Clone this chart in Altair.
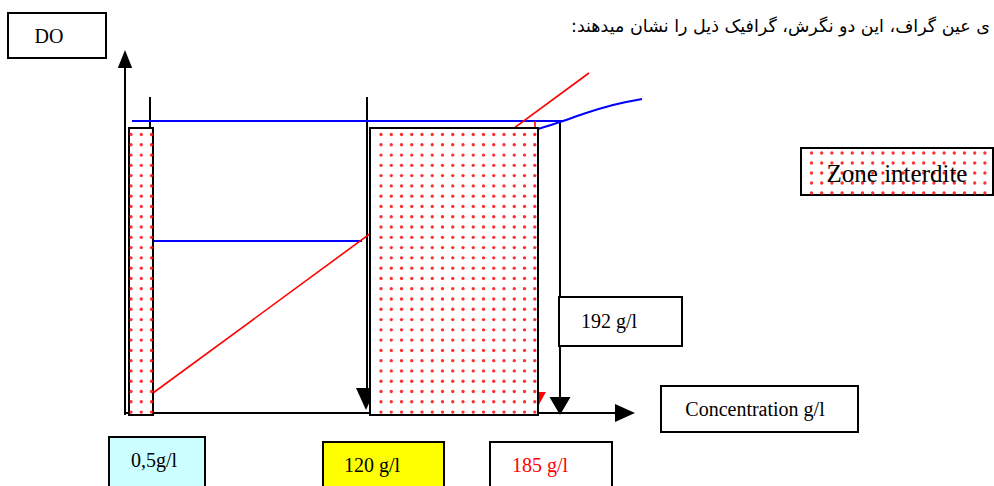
import altair as alt
import numpy as np
import pandas as pd

W, H = 994, 486

# ---- diagram geometry (canvas units, y grows downward) ----
# straight line segments: x, y, x2, y2, colour, width
seg_x  = [125, 125, 150, 367, 560, 132, 153, 153, 535]
seg_y  = [66, 413, 97, 97, 121, 121, 241, 393, 121]
seg_x2 = [125, 617, 150, 367, 560, 563, 362, 589, 535]
seg_y2 = [415, 413, 128, 392, 399, 121, 241, 73, 129]
seg_col = ["black", "black", "black", "black", "black", "blue", "blue", "red", "red"]
seg_w   = [2, 2, 2, 2, 2, 2, 2, 1.6, 1.6]

# curved blue characteristic beyond the forbidden zone
curve_x = [538, 563, 583, 613, 642]
curve_y = [129, 121, 114, 105, 99]

# arrow heads: centre x, centre y, path, symbol size, colour
head_x = [125, 625, 366, 560, 536]
head_y = [59, 413, 399, 406, 401]
head_path = [
    "M-0.8,1L0,-1L0.8,1Z",
    "M-1,-0.9L1,0L-1,0.9Z",
    "M-0.91,-1L0.91,-1L0,1Z",
    "M-1.17,-1L1.17,-1L0,1Z",
    "M-1.1,-1L1.1,-1L0,1Z",
]
head_size = [324, 400, 484, 324, 324]
head_col = ["black", "black", "black", "black", "red"]

# forbidden zones (dotted rectangles)
zone_x  = [129, 370]
zone_y  = [128, 128]
zone_x2 = [153, 538]
zone_y2 = [415, 415]

# label boxes
box_x  = [8, 661, 559, 801, 109, 323, 490]
box_y  = [13, 386, 297, 148, 437, 442, 442]
box_x2 = [106, 858, 682, 993, 205, 444, 612]
box_y2 = [58, 432, 346, 195, 492, 492, 492]
box_fill = ["white", "white", "white", "white", "#ccffff", "#ffff00", "white"]

# label texts
label_text = ["DO", "Concentration g/l", "192 g/l", "Zone interdite",
              "0,5g/l", "120 g/l", "185 g/l"]
label_x = [49, 755, 609, 897, 154, 372, 540]
label_y = [37, 410, 322, 174, 461, 466, 466]
label_size = [20, 20, 20, 25, 20, 20, 20]
label_col = ["black", "black", "black", "black", "black", "black", "red"]

persian_line = "ی عین گراف، این دو نگرش، گرافیک ذیل را نشان میدهند:\u200f"


def dot_grid(x0, x1, y0, y1, cx0, cy0, step_x, step_y):
    xs = np.arange(cx0, x1, step_x)
    ys = np.arange(cy0, y1, step_y)
    gx, gy = np.meshgrid(xs, ys)
    gx, gy = gx.ravel(), gy.ravel()
    keep = (gx > x0) & (gx < x1) & (gy > y0) & (gy < y1)
    return gx[keep], gy[keep]


dots = []
for a, b, c, d, cx0 in zip(zone_x, zone_x2, zone_y, zone_y2, [131, 381]):
    dots.append(dot_grid(a, b, c, d, cx0, 134.5, 10.25, 10.28))
dots.append(dot_grid(801, 993, 148, 195, 811.5, 153, 10.2, 10.0))
dot_df = pd.DataFrame({
    "x": np.concatenate([g[0] for g in dots]),
    "y": np.concatenate([g[1] for g in dots]),
})

xs = alt.Scale(domain=[0, W], nice=False, zero=False)
ys = alt.Scale(domain=[0, H], nice=False, zero=False, reverse=True)

seg_df = pd.DataFrame({"x": seg_x, "y": seg_y, "x2": seg_x2, "y2": seg_y2,
                       "c": seg_col, "w": seg_w})
curve_df = pd.DataFrame({"x": curve_x, "y": curve_y})
head_df = pd.DataFrame({"x": head_x, "y": head_y, "p": head_path,
                        "s": head_size, "c": head_col})
zone_df = pd.DataFrame({"x": zone_x, "y": zone_y, "x2": zone_x2, "y2": zone_y2})
box_df = pd.DataFrame({"x": box_x, "y": box_y, "x2": box_x2, "y2": box_y2,
                       "f": box_fill})
label_df = pd.DataFrame({"t": label_text, "x": label_x, "y": label_y,
                         "s": label_size, "c": label_col})
title_df = pd.DataFrame({"t": [persian_line], "x": [990], "y": [27]})

segments = alt.Chart(seg_df).mark_rule().encode(
    x=alt.X("x:Q", scale=xs, axis=None),
    y=alt.Y("y:Q", scale=ys, axis=None),
    x2="x2:Q", y2="y2:Q",
    color=alt.Color("c:N", scale=None),
    strokeWidth=alt.StrokeWidth("w:Q", scale=None),
)

curve = alt.Chart(curve_df).mark_line(
    color="blue", strokeWidth=2, interpolate="monotone"
).encode(
    x=alt.X("x:Q", scale=xs, axis=None),
    y=alt.Y("y:Q", scale=ys, axis=None),
)

heads = alt.Chart(head_df).mark_point(filled=True, opacity=1).encode(
    x=alt.X("x:Q", scale=xs, axis=None),
    y=alt.Y("y:Q", scale=ys, axis=None),
    shape=alt.Shape("p:N", scale=None),
    size=alt.Size("s:Q", scale=None),
    color=alt.Color("c:N", scale=None),
)

zones = alt.Chart(zone_df).mark_rect(
    fill="white", stroke="black", strokeWidth=2
).encode(
    x=alt.X("x:Q", scale=xs, axis=None),
    y=alt.Y("y:Q", scale=ys, axis=None),
    x2="x2:Q", y2="y2:Q",
)

boxes = alt.Chart(box_df).mark_rect(stroke="black", strokeWidth=2).encode(
    x=alt.X("x:Q", scale=xs, axis=None),
    y=alt.Y("y:Q", scale=ys, axis=None),
    x2="x2:Q", y2="y2:Q",
    fill=alt.Fill("f:N", scale=None),
)

dot_layer = alt.Chart(dot_df).mark_circle(
    color="#ff1a1a", size=11, opacity=0.9
).encode(
    x=alt.X("x:Q", scale=xs, axis=None),
    y=alt.Y("y:Q", scale=ys, axis=None),
)

labels = alt.Chart(label_df).mark_text(
    font="Liberation Serif", baseline="middle", align="center"
).encode(
    x=alt.X("x:Q", scale=xs, axis=None),
    y=alt.Y("y:Q", scale=ys, axis=None),
    text="t:N",
    size=alt.Size("s:Q", scale=None),
    color=alt.Color("c:N", scale=None),
)

title = alt.Chart(title_df).mark_text(
    font="DejaVu Sans", fontSize=17.5, baseline="middle", align="right",
    color="black"
).encode(
    x=alt.X("x:Q", scale=xs, axis=None),
    y=alt.Y("y:Q", scale=ys, axis=None),
    text="t:N",
)

chart = alt.layer(
    segments, curve, heads, zones, boxes, dot_layer, labels, title
).properties(
    width=W, height=H,
    autosize=alt.AutoSizeParams(type="none"),
    padding=0,
    background="white",
).configure_view(stroke=None)

chart.save("out.html", embed_options={"renderer": "svg", "actions": False})
